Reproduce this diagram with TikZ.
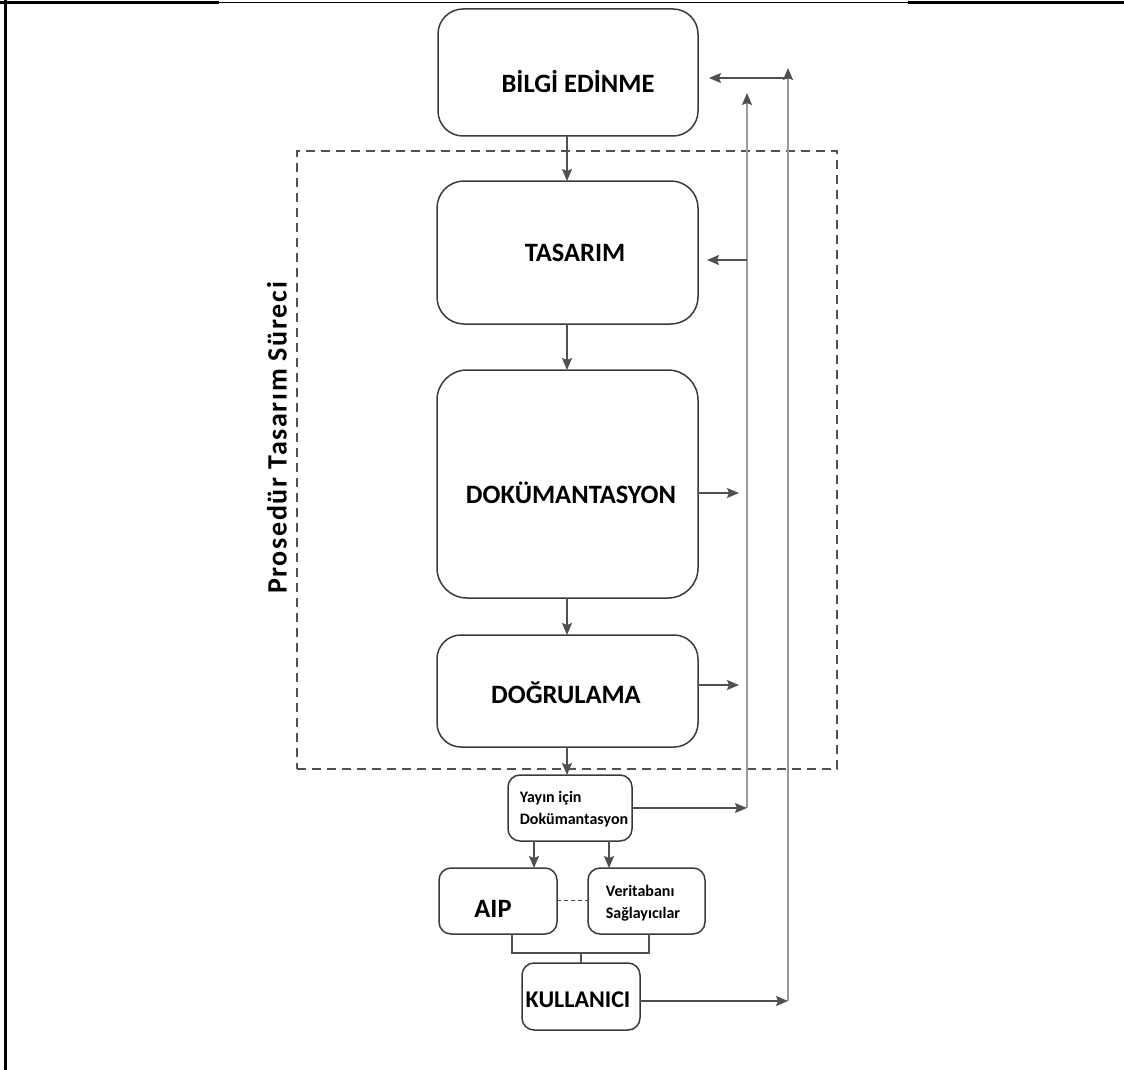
\documentclass[tikz,border=0pt]{standalone}
\usepackage{fontspec}
\setmainfont{Carlito}
\usetikzlibrary{arrows.meta}
\definecolor{boxc}{HTML}{3A3A3A}
\definecolor{linec}{HTML}{505050}
\definecolor{farc}{HTML}{9A9A9A}
\tikzset{
  box/.style={draw=boxc, line width=1.5pt, rounded corners=#1, outer sep=0pt, inner sep=0pt},
  box/.default=24pt,
  big/.style={font=\bfseries\fontsize{26.5}{30}\selectfont, inner sep=0pt},
  small/.style={font=\bfseries\fontsize{16}{22}\selectfont, inner sep=0pt, align=left},
  tip/.style={-{Stealth[length=12pt,width=10pt,inset=2pt,color=linec]}},
  conn/.style={tip, draw=linec, line width=1.3pt},
  far/.style={draw=farc, line width=1.5pt},
}
\begin{document}
\begin{tikzpicture}[x=1pt,y=-1pt]
\useasboundingbox (0,0) rectangle (1124,1070);
% frame lines
\draw[line width=1.4pt] (0,2.5) -- (1124,2.5);
\draw[line width=3pt] (0,2.5) -- (219,2.5);
\draw[line width=3pt] (908,2.5) -- (1124,2.5);
\draw[line width=2.5pt] (5.5,0) -- (5.5,1070);
% dashed group
\node[draw=linec, dash pattern=on 9pt off 6pt, line width=1.6pt, minimum width=540, minimum height=618, inner sep=0pt, outer sep=0pt] (grp) at (567,460) {};
\node[inner sep=0pt, rotate=90, font=\bfseries\fontsize{28}{30}\selectfont\addfontfeature{LetterSpace=6}] (grpt) at (277,438) {Prosedür Tasarım Süreci};
% main boxes
\node[box=25pt, minimum width=260, minimum height=127] (bilgi) at (568,72.5) {};
\node[big] (bilgit) at (578,82) {BİLGİ EDİNME};
\node[box=27pt, minimum width=261, minimum height=143] (tas) at (567.5,252.5) {};
\node[big] (tast) at (575,253) {TASARIM};
\node[box=30pt, minimum width=261, minimum height=228] (dok) at (567.5,484) {};
\node[big] (dokt) at (571,493) {DOKÜMANTASYON};
\node[box=24pt, minimum width=261, minimum height=112] (dog) at (567.5,691) {};
\node[big] (dogt) at (566,693) {DOĞRULAMA};
% lower boxes
\node[box=12pt, minimum width=124, minimum height=66] (yay) at (570,808) {};
\node[small] (yayt) at (574,809) {Yayın için\\Dokümantasyon};
\node[box=12pt, minimum width=118, minimum height=66] (aip) at (498,901) {};
\node[big] (aipt) at (493,909) {AIP};
\node[box=12pt, minimum width=117, minimum height=66] (ver) at (646.5,901) {};
\node[small] (vert) at (643,903) {Veritabanı\\Sağlayıcılar};
\node[box=12pt, minimum width=118, minimum height=67] (kul) at (581,996.5) {};
\node[big, font=\bfseries\fontsize{24}{28}\selectfont] (kult) at (578,1000) {KULLANICI};
% coordinates for the feedback lines
\coordinate (l1top) at (747,93);
\coordinate (l1bot) at (747,808);
\coordinate (l2top) at (788,68);
\coordinate (l2bot) at (788,1001);
\coordinate (l2b) at (788,78);
\coordinate (l1t) at (747,260);
% vertical down arrows
\draw[conn] (bilgi.south -| 567,0) -- (tas.north -| 567,0);
\draw[conn] (tas.south -| 567,0) -- (dok.north -| 567,0);
\draw[conn] (dok.south -| 567,0) -- (dog.north -| 567,0);
\draw[conn] (dog.south -| 567,0) -- (yay.north -| 567,0);
\draw[conn] (yay.south -| 534,0) -- (aip.north -| 534,0);
\draw[conn] (yay.south -| 609,0) -- (ver.north -| 609,0);
% AIP - Veritabani dashed
\draw[draw=linec, line width=1pt, dash pattern=on 4pt off 3pt] (aip.east |- 0,900) -- (ver.west |- 0,900);
% bracket to KULLANICI
\coordinate (brl) at (512,953);
\coordinate (brr) at (649,953);
\draw[draw=linec, line width=1.2pt] (aip.south -| brl) -- (brl) -- (brr) -- (ver.south -| brr);
\draw[draw=linec, line width=1.2pt] (581,953) -- (kul.north);
% far vertical lines
\draw[far, tip] (l1bot) -- (l1top);
\draw[far, tip] (l2bot) -- (l2top);
% horizontal arrows
\draw[conn] (l2b) -- ([xshift=11pt]bilgi.east |- l2b);
\draw[conn] (l1t) -- ([xshift=9pt]tas.east |- l1t);
\draw[conn] (dok.east |- 0,493) -- ([xshift=-8pt]l1t |- 0,493);
\draw[conn] (dog.east |- 0,685) -- ([xshift=-8pt]l1t |- 0,685);
\draw[conn] (yay.east |- l1bot) -- (l1bot);
\draw[conn] (kul.east |- l2bot) -- (l2bot);
\end{tikzpicture}
\end{document}
